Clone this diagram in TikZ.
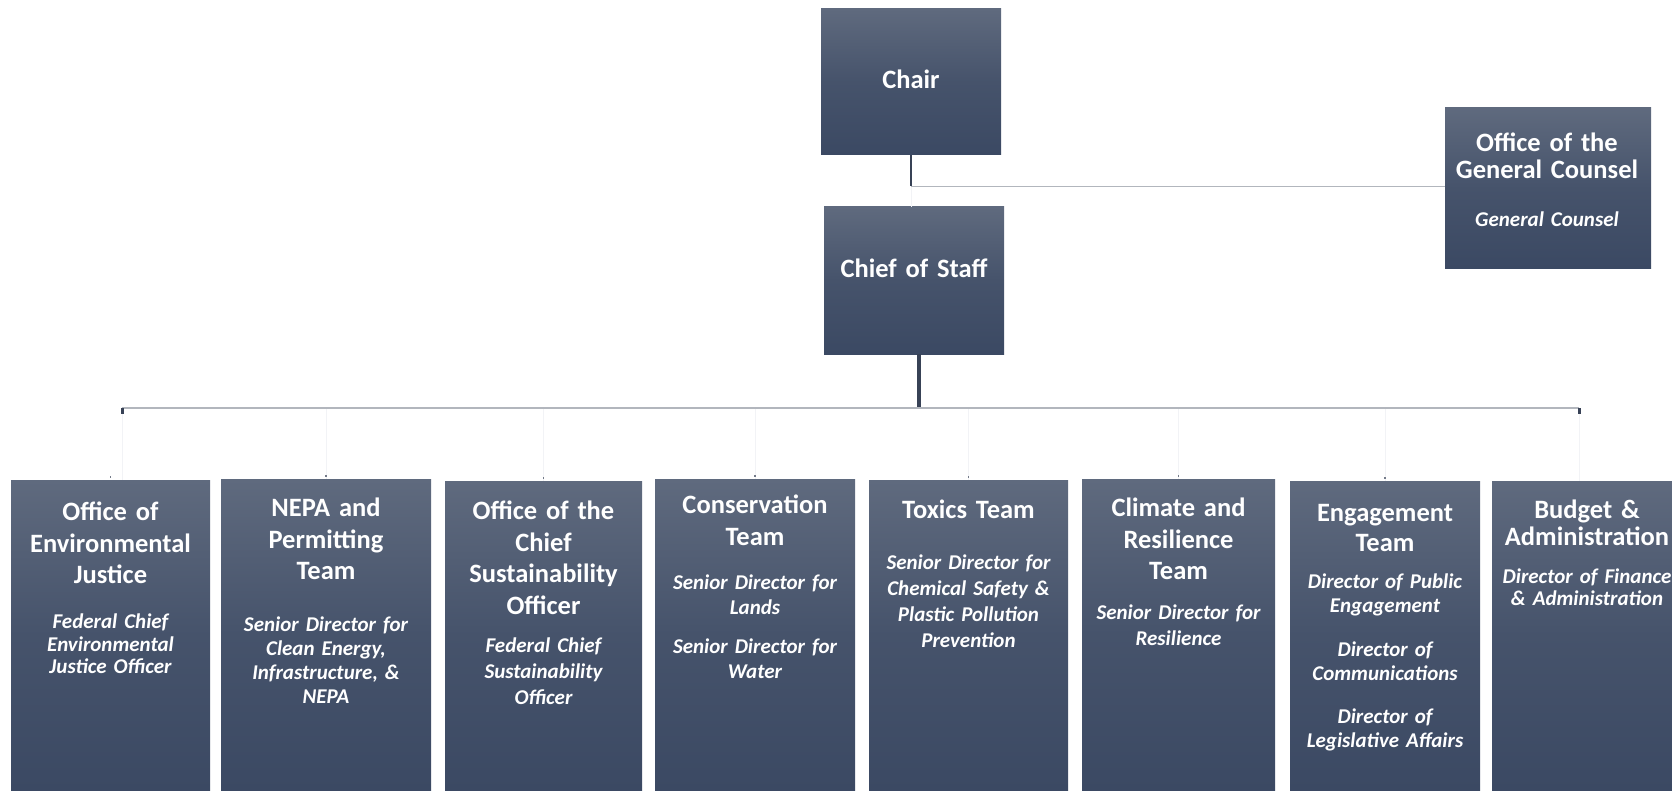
\documentclass[tikz,border=0pt]{standalone}
\usepackage{fontspec}
\setmainfont{Carlito}
\usepackage{xcolor}
\definecolor{boxtop}{RGB}{95,106,126}
\definecolor{boxbot}{RGB}{59,73,99}
\definecolor{linegray}{RGB}{178,182,189}
\definecolor{linedark}{RGB}{56,66,86}
\definecolor{linefaint}{RGB}{242,243,246}
\begin{document}
\begin{tikzpicture}[x=1pt,y=-1pt,
		unit/.style={draw=none, rectangle, inner sep=0pt, top color=boxtop, bottom color=boxbot, middle color=boxbot!70!boxtop},
		ttl/.style={text=white, anchor=base, inner sep=0pt, text width=205pt, align=center, font=\bfseries\fontsize{26.5}{31.5}\selectfont},
		sub/.style={text=white, anchor=base, inner sep=0pt, text width=205pt, align=center, font=\bfseries\itshape\fontsize{21}{24.5}\selectfont},
		gyline/.style={draw=linegray, line width=1.4pt},
		dkline/.style={draw=linedark, line width=2pt},
		fnline/.style={draw=linefaint, line width=0.8pt}]
				\useasboundingbox (0,0) rectangle (1672,791);
				\node[unit, minimum width=180pt, minimum height=146pt] (chair) at (911,82) {};
				\node[unit, minimum width=180pt, minimum height=147pt] (cos) at (914,280.5) {};
				\node[unit, minimum width=206pt, minimum height=161pt] (ogc) at (1548,188.5) {};
				\node[unit, minimum width=199pt, minimum height=311pt] (ej) at (110.5,635.5) {};
				\node[unit, minimum width=210pt, minimum height=312pt] (nepa) at (326,635) {};
				\node[unit, minimum width=197pt, minimum height=310pt] (cso) at (543.5,636) {};
				\node[unit, minimum width=200pt, minimum height=312pt] (cons) at (755,635) {};
				\node[unit, minimum width=199pt, minimum height=311pt] (tox) at (968.5,635.5) {};
				\node[unit, minimum width=193pt, minimum height=312pt] (clim) at (1178.5,635) {};
				\node[unit, minimum width=190pt, minimum height=310pt] (eng) at (1385,636) {};
				\node[unit, minimum width=190pt, minimum height=310pt] (bud) at (1587,636) {};
				\node[ttl] (chair-t) at (911,88.5) {Chair};
				\node[ttl] (cos-t) at (914,277.5) {Chief of Staff};
				\node[ttl, font=\bfseries\fontsize{26.5}{27}\selectfont] (ogc-t) at (1547,151.5) {Office of the\\General Counsel};
				\node[sub] (ogc-s) at (1547,226.6) {General Counsel};
				\node[ttl] (ej-t) at (110.5,520.5) {Office of\\Environmental\\Justice};
				\node[sub, font=\bfseries\itshape\fontsize{21}{22.5}\selectfont] (ej-s) at (110.5,628.6) {Federal Chief\\Environmental\\Justice Officer};
				\node[ttl] (nepa-t) at (326,516.5) {NEPA and\\Permitting\\Team};
				\node[sub, font=\bfseries\itshape\fontsize{21}{24}\selectfont] (nepa-s) at (326,631.6) {Senior Director for\\Clean Energy,\\Infrastructure, \&\\NEPA};
				\node[ttl] (cso-t) at (543.5,519.5) {Office of the\\Chief\\Sustainability\\Officer};
				\node[sub, font=\bfseries\itshape\fontsize{21}{26}\selectfont] (cso-s) at (543.5,652.6) {Federal Chief\\Sustainability\\Officer};
				\node[ttl] (cons-t) at (755,513.5) {Conservation\\Team};
				\node[sub, font=\bfseries\itshape\fontsize{21}{25}\selectfont] (cons-s) at (755,589.6) {Senior Director for\\Lands\\[14pt]Senior Director for\\Water};
				\node[ttl] (tox-t) at (968.5,518.5) {Toxics Team};
				\node[sub, font=\bfseries\itshape\fontsize{21}{26}\selectfont] (tox-s) at (968.5,569.6) {Senior Director for\\Chemical Safety \&\\Plastic Pollution\\Prevention};
				\node[ttl] (clim-t) at (1178.5,516.5) {Climate and\\Resilience\\Team};
				\node[sub, font=\bfseries\itshape\fontsize{21}{26}\selectfont] (clim-s) at (1178.5,619.6) {Senior Director for\\Resilience};
				\node[ttl, font=\bfseries\fontsize{26.5}{30}\selectfont] (eng-t) at (1385,521.5) {Engagement\\Team};
				\node[sub, font=\bfseries\itshape\fontsize{21}{24}\selectfont] (eng-s) at (1385,588.6) {Director of Public\\Engagement\\[20pt]Director of\\Communications\\[19pt]Director of\\Legislative Affairs};
				\node[ttl, font=\bfseries\fontsize{26.5}{27}\selectfont] (bud-t) at (1587,518.5) {Budget \&\\Administration};
				\node[sub, font=\bfseries\itshape\fontsize{21}{21.5}\selectfont] (bud-s) at (1587,583.6) {Director of Finance\\\& Administration};
				\coordinate (busL) at (122,408);
				\coordinate (busR) at (1579,408);
				\draw[dkline] (chair.south) -- ++(0,31) coordinate (j1);
				\draw[fnline] (j1) -- (j1 |- cos.north);
				\draw[gyline, line width=1.1pt] (j1) -- (j1 -| ogc.west);
				\draw[dkline, line width=3.5pt] ([xshift=5pt]cos.south) -- ([xshift=5pt]cos.south |- busL);
				\draw[fnline] (busL) -- (busL |- ej.north);
				\draw[fnline] (busR) -- (busR |- bud.north);
				\foreach \b in {nepa,cso,cons,tox,clim,eng}
					\draw[fnline] (\b.north |- busL) -- (\b.north);
				\foreach \b in {ej,nepa,cso,cons,tox,clim,eng}
					\draw[dkline, line width=1.5pt, draw=linedark!70] ([yshift=2pt]\b.north) -- ([yshift=4pt]\b.north);
				\draw[gyline] (busL) -- (busR);
				\draw[dkline, line width=3pt] (busL) -- ++(0,6);
				\draw[dkline, line width=3pt] (busR) -- ++(0,6);
			\end{tikzpicture}
\end{document}
